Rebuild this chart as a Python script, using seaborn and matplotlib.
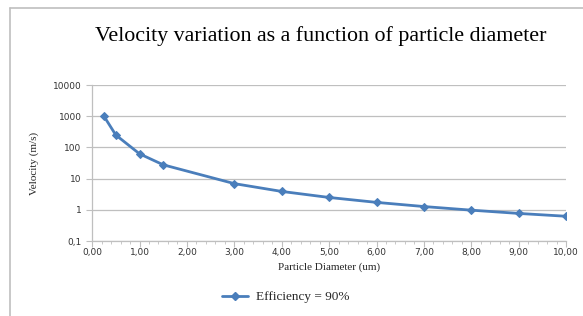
import numpy as np
import pandas as pd
import seaborn as sns
import matplotlib.pyplot as plt
from matplotlib.ticker import FixedLocator, MultipleLocator, FuncFormatter
from matplotlib.lines import Line2D

# data
diameter = [0.25, 0.5, 1.0, 1.5, 3.0, 4.0, 5.0, 6.0, 7.0, 8.0, 9.0, 10.0]
velocity = [1000, 250, 62.5, 27.8, 6.94, 3.9, 2.5, 1.74, 1.28, 0.98, 0.77, 0.625]
series_name = 'Efficiency = 90%'
y_ticks = [0.1, 1, 10, 100, 1000, 10000]
y_tick_labels = ['0,1', '1', '10', '100', '1000', '10000']

BLUE = '#4A7EBB'
GRAY = '#BFBFBF'
SERIF = 'Liberation Serif'

sns.set_style('white')
plt.rcParams['font.family'] = ['DejaVu Sans']

df = pd.DataFrame({'d': diameter, 'v': velocity})

fig = plt.figure(figsize=(5.83, 3.16), dpi=100)
ax = fig.add_axes([0.158, 0.237, 0.813, 0.494])

sns.lineplot(data=df, x='d', y='v', ax=ax, color=BLUE, lw=2,
             marker='D', markersize=4.5, markeredgecolor=BLUE)

ax.set_yscale('log')
ax.set_ylim(0.1, 10000)
ax.set_xlim(0, 10)
ax.yaxis.set_major_locator(FixedLocator(y_ticks))
ax.yaxis.set_minor_locator(FixedLocator([]))
ax.set_yticklabels(y_tick_labels)
ax.xaxis.set_major_locator(MultipleLocator(1))
ax.xaxis.set_minor_locator(MultipleLocator(0.2))
ax.xaxis.set_major_formatter(FuncFormatter(lambda v, p: f'{v:.2f}'.replace('.', ',')))

ax.grid(axis='y', color=GRAY, lw=0.9)
ax.grid(axis='x', visible=False)
for s in ['top', 'right']:
    ax.spines[s].set_visible(False)
for s in ['left', 'bottom']:
    ax.spines[s].set_color(GRAY)
    ax.spines[s].set_linewidth(0.9)

ax.tick_params(axis='both', which='both', direction='out', color=GRAY,
               labelsize=6.5, labelcolor='#333333', left=True, bottom=True)
ax.tick_params(axis='both', which='major', length=4)
ax.tick_params(axis='x', which='minor', length=2.5)
ax.tick_params(axis='x', pad=1)

ax.set_xlabel('Particle Diameter (um)', family=SERIF, fontsize=8, labelpad=4)
ax.set_ylabel('Velocity (m/s)', family=SERIF, fontsize=8, labelpad=10)

fig.text(0.551, 0.885, 'Velocity variation as a function of particle diameter',
         family=SERIF, fontsize=15.8, ha='center', va='center', color='black')

handle = Line2D([], [], color=BLUE, lw=2, marker='D', markersize=4)
fig.legend([handle], [series_name], loc='center', bbox_to_anchor=(0.49, 0.06),
           frameon=False, prop={'family': SERIF, 'size': 9.5},
           handlelength=2, handletextpad=0.6)

# outer chart frame (top and left edges visible in the crop)
fig.add_artist(Line2D([0.017, 1.0], [0.975, 0.975], color=GRAY, lw=1.2,
                      transform=fig.transFigure))
fig.add_artist(Line2D([0.017, 0.017], [0.0, 0.975], color=GRAY, lw=1.2,
                      transform=fig.transFigure))

fig.savefig('out.png', dpi=100)
